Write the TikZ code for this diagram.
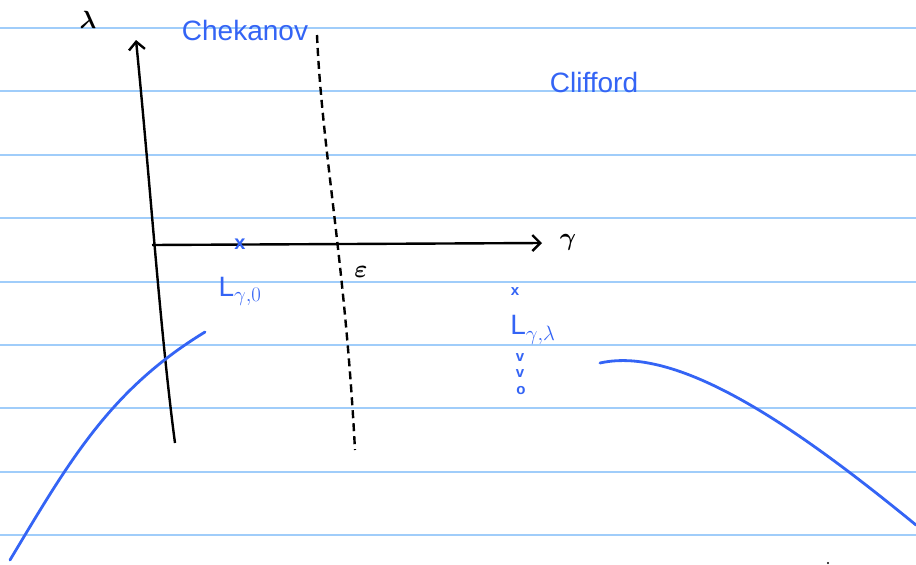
\documentclass[tikz,border=0pt]{standalone}
\usepackage{fontspec}
\setmainfont{Liberation Sans}
\usetikzlibrary{arrows.meta}
\definecolor{handblue}{RGB}{52,100,245}
\definecolor{ligne}{RGB}{160,205,250}

\begin{document}
\begin{tikzpicture}[x=1pt, y=-1pt]
  % Styles
  \tikzset{
    axe/.style={-{Straight Barb[length=8pt, width=16pt]}, line width=2.4pt, black},
    wall/.style={dash pattern=on 8pt off 5pt, line width=2.4pt, black},
    courbe/.style={handblue, line width=2.8pt, line cap=round},
    bleu/.style={handblue, font=\fontsize{28}{30}\selectfont, inner sep=0pt},
    noir/.style={black, font=\fontsize{36}{38}\selectfont\boldmath, inner sep=0pt},
    croix/.style={handblue, font=\bfseries\fontsize{20}{20}\selectfont, inner sep=0pt},
    petit/.style={croix, font=\bfseries\fontsize{15}{15}\selectfont},
  }
  \useasboundingbox[fill=white] (0,0) rectangle (916,565);

  % Lignes du cahier
  \foreach \y in {28,91.4,154.8,218.2,281.6,345,408.4,471.8,535.2}
    \draw[ligne, line width=2pt] (0,\y) -- (916,\y);

  % Axes
  \coordinate (lbas) at (175,443);
  \coordinate (lhaut) at (136,40);
  \coordinate (rgauche) at (152,245);
  \coordinate (rdroite) at (542,243);
  \draw[axe] (lbas) .. controls (160,330) and (150,180) .. (lhaut);
  \draw[axe] (rgauche) -- (rdroite);
  \node[noir] (lambda) at (88,20) {$\lambda$};
  \node[noir] (gam) at (568,242) {$\gamma$};

  % Mur de Chekanov
  \coordinate (mhaut) at (317,35);
  \coordinate (mbas) at (355,450);
  \draw[wall] (mhaut) .. controls (322,150) and (345,260) .. (mbas);
  \node[noir] (eps) at (361,272) {$\varepsilon$};

  % Textes
  \node[bleu] (chek) at (245,30) {Chekanov};
  \node[bleu] (cliff) at (594,82) {Clifford};

  % Points
  \node[croix] (x0) at (240,244) {x};
  \node[bleu] (L0) at (240,291) {L$_{\gamma,0}$};
  \node[petit] (xl) at (515,292) {x};
  \node[bleu] (Ll) at (533,330) {L$_{\gamma,\lambda}$};
  \node[petit] (v1) at (520,358) {v};
  \node[petit] (v2) at (520,374) {v};
  \node[petit] (o1) at (521,391) {o};

  % Courbes
  \draw[courbe] (10,560) .. controls (70,460) and (110,390) .. (205,332);
  \draw[courbe] (600,363) .. controls (680,345) and (800,430) .. (916,525);
  \fill (828,563) circle (1.2pt);
\end{tikzpicture}
\end{document}
